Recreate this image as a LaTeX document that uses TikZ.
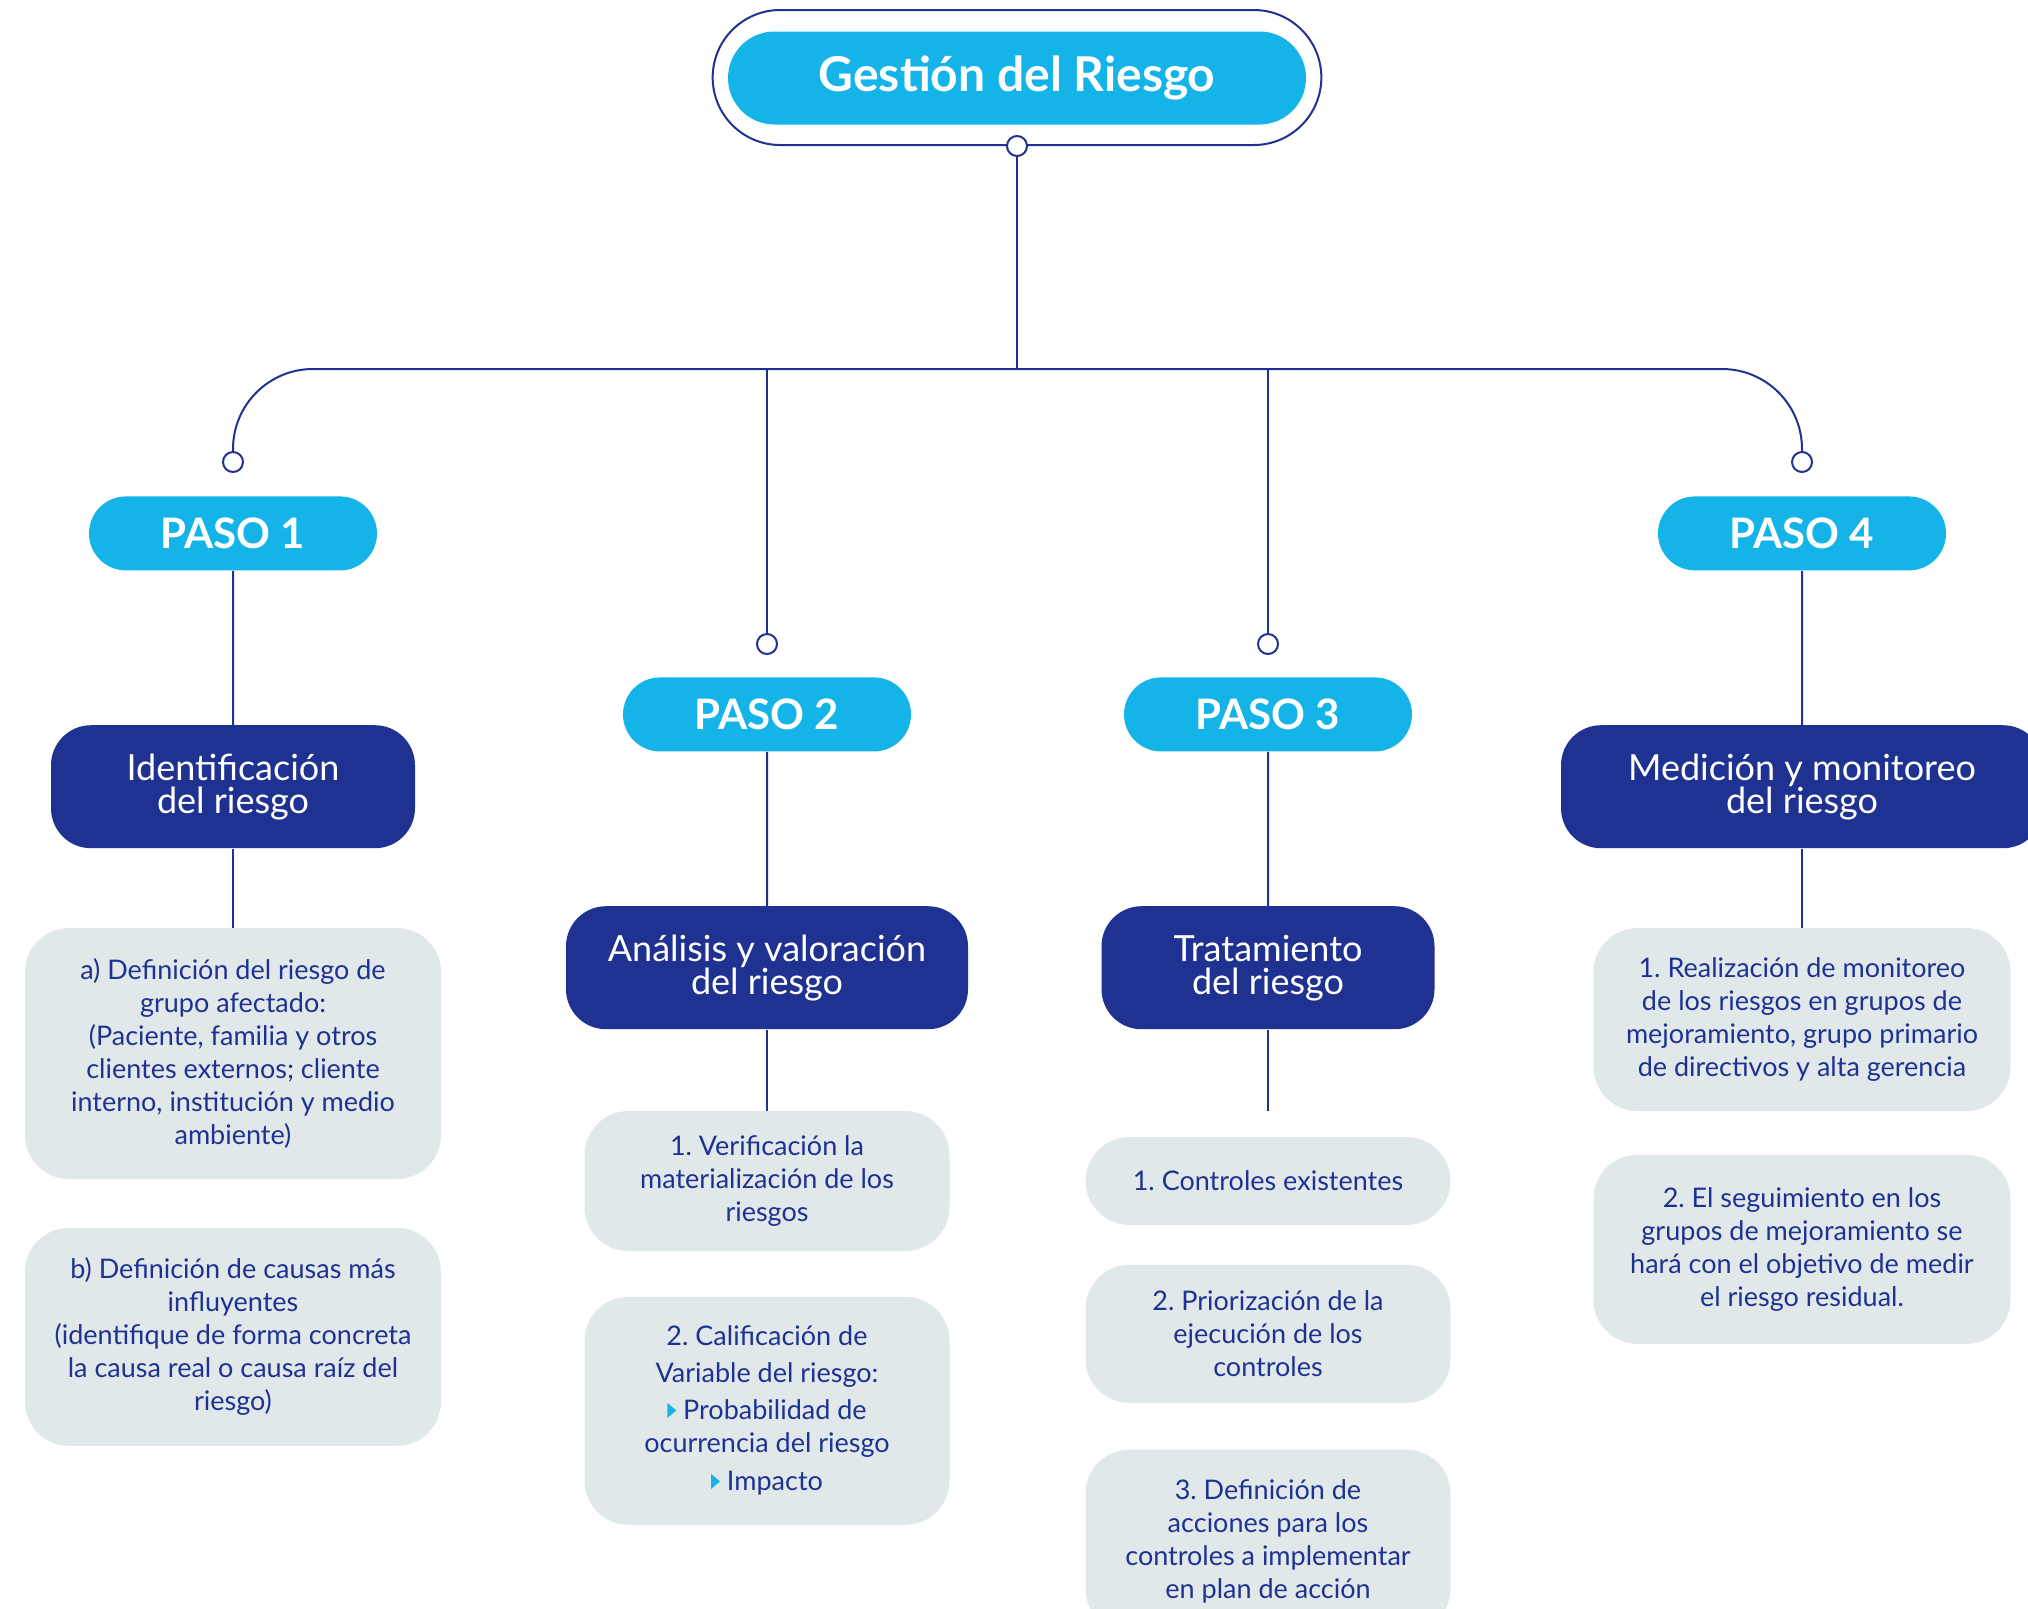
\documentclass[tikz,border=0pt]{standalone}
\usepackage{fontspec}
\setmainfont{Lato}
\usepackage{tikz}
\usetikzlibrary{positioning, shapes.misc}
\frenchspacing

\definecolor{pillcyan}{HTML}{14B4E8}
\definecolor{navy}{HTML}{1F3291}
\definecolor{boxgray}{HTML}{E1E8EA}

\newcommand{\tri}{\tikz[baseline=0pt]\fill[pillcyan, sharp corners] (0pt,1pt) -- (0pt,8.5pt) -- (4.5pt,4.75pt) -- cycle;}

\tikzset{
	pill/.style={rounded rectangle, fill=pillcyan, text=white, font=\bfseries\fontsize{21}{24}\selectfont, minimum width=144pt, minimum height=37pt, inner sep=0pt},
	stepbox/.style={rounded corners=20pt, fill=navy, text=white, align=center, font=\fontsize{18}{16.5}\selectfont, minimum height=61.5pt, inner sep=0pt},
	infobox/.style={rounded corners=22pt, fill=boxgray, text=navy, align=center, font=\fontsize{13.5}{16.5}\selectfont, inner sep=0pt},
	link/.style={draw=navy, line width=1pt},
	dot/.style={circle, draw=navy, fill=white, line width=1pt, minimum size=10pt, inner sep=0pt},
}

\begin{document}
\begin{tikzpicture}[x=0.5pt, y=-0.5pt]
		\useasboundingbox (0,0) rectangle (2028,1608);

		\node[rounded rectangle, draw=navy, line width=1pt, minimum width=311pt, minimum height=67.5pt] (frame) at (1017,77.5) {};
		\node[rounded rectangle, fill=pillcyan, text=white, font=\bfseries\fontsize{24}{28}\selectfont, minimum width=289pt, minimum height=46.5pt, inner sep=0pt] (title) at (1017,78) {Gestión del Riesgo};
		\node[dot] (topdot) at (frame.south) {};

		\coordinate (hub) at (1017,369);
		\node[dot] (dot1) at (233,462) {};
		\node[dot] (dot2) at (767,644) {};
		\node[dot] (dot3) at (1268,644) {};
		\node[dot] (dot4) at (1802,462) {};

		\node[pill, below = 11.5pt of dot1] (paso1) {PASO 1};
		\node[pill, below = 11pt of dot2] (paso2) {PASO 2};
		\node[pill, below = 11pt of dot3] (paso3) {PASO 3};
		\node[pill, below = 11.5pt of dot4] (paso4) {PASO 4};

		\node[stepbox, minimum width=182pt, below = 77pt of paso1] (ident) {Identificación\\del riesgo};
		\node[stepbox, minimum width=201pt, below = 77pt of paso2] (analisis) {Análisis y valoración\\del riesgo};
		\node[stepbox, minimum width=166.5pt, below = 77pt of paso3] (trat) {Tratamiento\\del riesgo};
		\node[stepbox, minimum width=241pt, below = 77pt of paso4] (medic) {Medición y monitoreo\\del riesgo};

		% columna 1
		\node[infobox, minimum width=208pt, minimum height=125.5pt, below = 39.5pt of ident] (defa) {a) Definición del riesgo de\\grupo afectado:\\(Paciente, familia y otros\\clientes externos; cliente\\interno, institución y medio\\ambiente)};
		\node[infobox, minimum width=208pt, minimum height=109pt, below = 24pt of defa] (defb) {b) Definición de causas más\\influyentes\\(identifique de forma concreta\\la causa real o causa raíz del\\riesgo)};

		% columna 2
		\node[infobox, minimum width=182.5pt, minimum height=70pt, below = 40.5pt of analisis] (verif) {1. Verificación la\\materialización de los\\riesgos};
		\node[infobox, minimum width=182.5pt, minimum height=114pt, below = 22.5pt of verif] (calif) {2. Calificación de\\[2pt]Variable del riesgo:\\[2pt]\tri\ Probabilidad de\\ocurrencia del riesgo\\[2.5pt]\tri\ Impacto};

		% columna 3
		\coordinate[below = 40.5pt of trat] (tratend);
		\node[infobox, minimum width=182.5pt, minimum height=44pt, below = 53.5pt of trat] (ctrl1) {1. Controles existentes};
		\node[infobox, minimum width=182.5pt, minimum height=69pt, below = 19.5pt of ctrl1] (ctrl2) {2. Priorización de la\\ejecución de los\\controles};
		\node[infobox, minimum width=182.5pt, minimum height=91.5pt, below = 23pt of ctrl2] (ctrl3) {3. Definición de\\acciones para los\\controles a implementar\\en plan de acción};

		% columna 4
		\node[infobox, minimum width=208.5pt, minimum height=91.5pt, below = 39.5pt of medic] (real) {1. Realización de monitoreo\\de los riesgos en grupos de\\mejoramiento, grupo primario\\de directivos y alta gerencia};
		\node[infobox, minimum width=208.5pt, minimum height=94.5pt, below = 21.5pt of real] (segui) {2. El seguimiento en los\\grupos de mejoramiento se\\hará con el objetivo de medir\\el riesgo residual.};

		\draw[link] (topdot) -- (hub);
		\draw[link, rounded corners=40pt] (dot1) |- (hub) -| (dot4);
		\draw[link] (dot2) -- (dot2 |- hub);
		\draw[link] (dot3) -- (dot3 |- hub);

		\draw[link] (paso1) -- (ident);
		\draw[link] (ident) -- (defa);
		\draw[link] (paso2) -- (analisis);
		\draw[link] (analisis) -- (verif);
		\draw[link] (paso3) -- (trat);
		\draw[link] (trat) -- (tratend);
		\draw[link] (paso4) -- (medic);
		\draw[link] (medic) -- (real);

	\end{tikzpicture}
\end{document}
